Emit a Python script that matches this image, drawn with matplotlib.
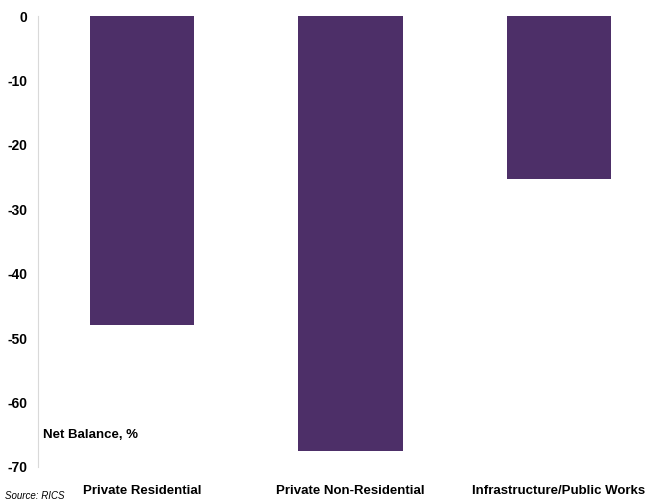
import matplotlib.pyplot as plt

categories = ["Private Residential", "Private Non-Residential", "Infrastructure/Public Works"]
net_balance = [-48, -67.5, -25.3]
y_ticks = [0, -10, -20, -30, -40, -50, -60, -70]

plt.rcParams['font.family'] = ['Liberation Sans', 'DejaVu Sans']

fig = plt.figure(figsize=(6.63, 5.04), dpi=100)
ax = fig.add_axes([38 / 663, 37 / 504, 625 / 663, 451 / 504])

x = range(len(categories))
ax.bar(x, net_balance, width=0.5, color="#4D2F68")

ax.set_ylim(-70, 0)
ax.set_xlim(-0.5, len(categories) - 0.5)
ax.set_yticks(y_ticks)
ax.set_yticklabels([str(t) for t in y_ticks], fontsize=10, fontweight="bold")
ax.set_xticks(list(x))
ax.set_xticklabels(categories, fontsize=9.5, fontweight="bold")
ax.tick_params(axis="x", length=0, pad=13)
ax.tick_params(axis="y", length=0, pad=7.5)

for side in ("top", "right", "bottom"):
    ax.spines[side].set_visible(False)
ax.spines["left"].set_color("#D9D9D9")

ax.text(0.008, 0.07, "Net Balance, %", transform=ax.transAxes,
        fontsize=9.5, fontweight="bold", va="center")
fig.text(5 / 663, 1 - 496 / 504, "Source: RICS", fontsize=7, style="italic", va="center")

fig.savefig("out.png", dpi=100)
